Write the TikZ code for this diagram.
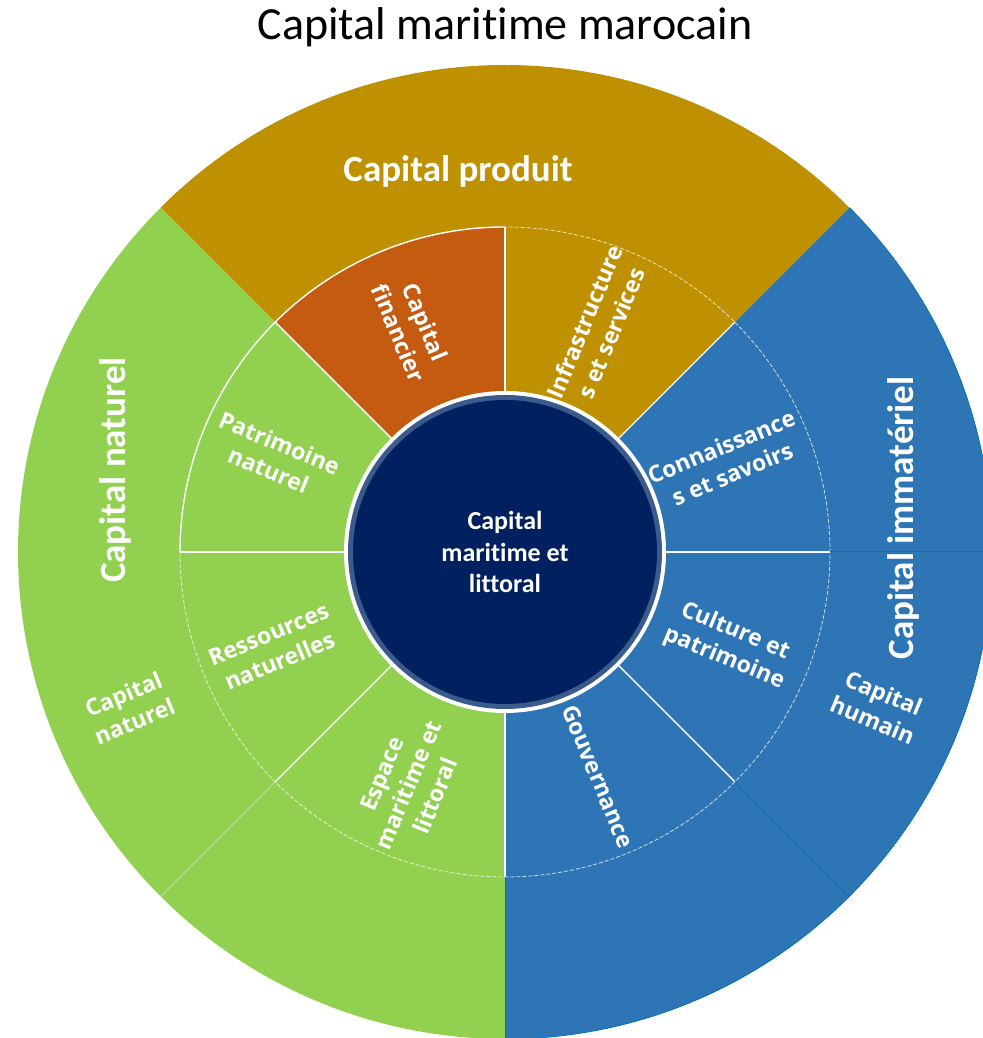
\documentclass[tikz,border=0pt]{standalone}
\usepackage{fontspec}
\setmainfont{Carlito}[Ligatures=NoCommon]
\newfontfamily\lblfont{Open Sans}[Ligatures=NoCommon]
\definecolor{goldc}{HTML}{BF9000}
\definecolor{greenc}{HTML}{92D050}
\definecolor{bluec}{HTML}{2E75B6}
\definecolor{bluel}{HTML}{0070C0}
\definecolor{orangec}{HTML}{C55A11}
\definecolor{navyc}{HTML}{002060}
\definecolor{ringc}{HTML}{3B5B8C}
\tikzset{
  midlabel/.style={text=white, font=\lblfont\bfseries\fontsize{23}{29}\selectfont, align=center, inner sep=0pt},
  biglabel/.style={text=white, font=\bfseries\fontsize{37}{40}\selectfont, inner sep=0pt},
  sepline/.style={white, line width=1.4pt},
  faintline/.style={white, opacity=0.6, line width=0.7pt},
  blueline/.style={bluel, line width=1pt},
  dashedarc/.style={white, opacity=0.75, line width=0.8pt, dash pattern=on 4pt off 2pt}
}
\begin{document}
\begin{tikzpicture}[x=1pt,y=1pt]
\useasboundingbox (0,0) rectangle (982,1038);
\node[anchor=base, inner sep=0pt, font=\fontsize{46}{50}\selectfont] (title) at (505,998) {Capital maritime marocain};
\begin{scope}[shift={(505,486)}]
  % outer ring sectors
  \fill[goldc] (0,0) -- (45:487) arc[start angle=45,end angle=135,radius=487] -- cycle;
  \fill[greenc] (0,0) -- (135:487) arc[start angle=135,end angle=270,radius=487] -- cycle;
  \fill[bluec] (0,0) -- (270:487) arc[start angle=270,end angle=405,radius=487] -- cycle;
  \draw[bluel, line width=0.8pt] (270:487) arc[start angle=270,end angle=405,radius=487];
  % middle ring sectors
  \fill[orangec] (0,0) -- (90:325) arc[start angle=90,end angle=135,radius=325] -- cycle;
  \fill[goldc] (0,0) -- (45:325) arc[start angle=45,end angle=90,radius=325] -- cycle;
  \fill[bluec] (0,0) -- (-90:325) arc[start angle=-90,end angle=45,radius=325] -- cycle;
  \fill[greenc] (0,0) -- (135:325) arc[start angle=135,end angle=270,radius=325] -- cycle;
  % ring boundaries
  \draw[dashedarc] (180:325) arc[start angle=180,end angle=450,radius=325];
  \draw[sepline] (90:325) arc[start angle=90,end angle=180,radius=325];
  \draw[faintline] (225:325) -- (225:487);
  \draw[blueline] (-45:325) -- (-45:487);
  \draw[blueline] (0:325) -- (0:487);
  \draw[blueline] (-90:325) -- (-90:487);
  \foreach \a in {0,45,90,135,180,225,270,315}
    \draw[sepline] (\a:150) -- (\a:325);
  % centre disc
  \fill[white] (0,0) circle[radius=161];
  \fill[ringc] (0,0) circle[radius=157];
  \fill[navyc] (0,0) circle[radius=152];
  \node[text=white, font=\bfseries\fontsize{26}{31.7}\selectfont, align=center, inner sep=0pt] (core) at (0,0) {Capital\\maritime et\\littoral};
  % middle ring labels
  \node[midlabel, rotate=-67.5] (fin) at (112.5:243) {Capital\\financier};
  \node[midlabel, rotate=67.5] (infra) at (67.5:243) {Infrastructure\\s et services};
  \node[midlabel, rotate=22.5] (conn) at (22.5:240) {Connaissance\\s et savoirs};
  \node[midlabel, rotate=-22.5] (cult) at (-22.5:243) {Culture et\\patrimoine};
  \node[midlabel, rotate=-67.5] (gouv) at (-67.5:243) {Gouvernance};
  \node[midlabel, rotate=67.5] (esp) at (-112.5:252) {Espace\\maritime et\\littoral};
  \node[midlabel, rotate=22.5] (ress) at (-157.5:250) {Ressources\\naturelles};
  \node[midlabel, rotate=-22.5] (patr) at (157.5:250) {Patrimoine\\naturel};
  % outer ring labels
  \node[midlabel, rotate=22.5] (natsmall) at (202.5:407) {Capital\\naturel};
  \node[midlabel, rotate=-22.5] (hum) at (-22.5:404) {Capital\\humain};
\end{scope}
\node[biglabel, anchor=base] (prod) at (458,856) {Capital produit};
\node[biglabel, rotate=90] (nat) at (115,568) {Capital naturel};
\node[biglabel, rotate=90] (imm) at (903,520) {Capital immatériel};
\end{tikzpicture}
\end{document}
